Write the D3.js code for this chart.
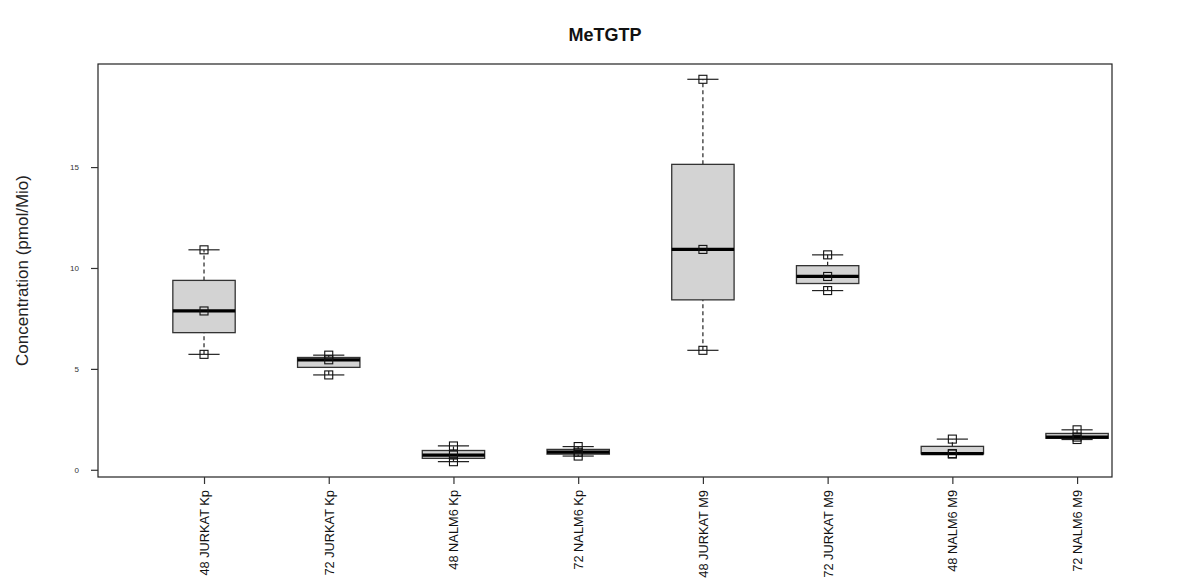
<!DOCTYPE html>
<html>
<head>
<meta charset="utf-8">
<script src="https://cdn.jsdelivr.net/npm/d3@7"></script>
<style>
  body { margin: 0; background: #fff; }
  svg { font-family: "Liberation Sans", Arial, sans-serif; }
</style>
</head>
<body>
<div id="my_dataviz"></div>
<script>
var groups = ["48 JURKAT Kp", "72 JURKAT Kp", "48 NALM6 Kp", "72 NALM6 Kp",
              "48 JURKAT M9", "72 JURKAT M9", "48 NALM6 M9", "72 NALM6 M9"];
var rep1 = [5.72, 4.70, 0.40, 0.68, 5.92, 8.88, 0.78, 1.50];
var rep2 = [7.87, 5.45, 0.73, 0.87, 10.92, 9.58, 0.80, 1.62];
var rep3 = [10.90, 5.68, 1.18, 1.15, 19.35, 10.65, 1.52, 1.98];
var yTicks = [0, 5, 10, 15];

// set the dimensions and margins of the graph
var margin = { top: 64, right: 76, bottom: 111, left: 98 },
    width = 1188 - margin.left - margin.right,
    height = 588 - margin.top - margin.bottom;

var svg = d3.select("#my_dataviz")
    .append("svg")
    .attr("width", 1188)
    .attr("height", 588);

var g = svg.append("g")
    .attr("transform", "translate(" + margin.left + "," + margin.top + ")");

// Tukey five-number summary, like R's boxplot
function fivenum(v) {
    var s = v.slice().sort(d3.ascending), n = s.length;
    var n4 = Math.floor((n + 3) / 2) / 2;
    var d = [1, n4, (n + 1) / 2, n + 1 - n4, n];
    return d.map(function (k) {
        return 0.5 * (s[Math.floor(k) - 1] + s[Math.ceil(k) - 1]);
    });
}

var data = groups.map(function (name, i) {
    var vals = [rep1[i], rep2[i], rep3[i]];
    return { name: name, i: i + 1, vals: vals, f: fivenum(vals) };
});

// scales
var x = d3.scaleLinear().domain([0.15, 8.28]).range([0, width]);
var y = d3.scaleLinear().domain([-0.358, 20.108]).range([height, 0]);
var unit = x(2) - x(1);

// frame
g.append("rect")
    .attr("width", width).attr("height", height)
    .attr("fill", "none").attr("stroke", "#222").attr("stroke-width", 1.2);

// Y axis
var yAxis = g.append("g")
    .call(d3.axisLeft(y).tickValues(yTicks).tickSize(7).tickPadding(12));
yAxis.select(".domain").remove();
yAxis.selectAll("line").attr("stroke", "#333").attr("stroke-width", 1.2);
yAxis.selectAll("text").attr("font-size", 8).attr("fill", "#333")
    .attr("font-family", "Liberation Sans, Arial, sans-serif");

// X axis
var xAxis = g.append("g")
    .attr("transform", "translate(0," + height + ")")
    .call(d3.axisBottom(x).tickValues(data.map(function (d) { return d.i; }))
        .tickFormat(function (v) { return groups[v - 1]; }).tickSize(7));
xAxis.select(".domain").remove();
xAxis.selectAll("line").attr("stroke", "#333").attr("stroke-width", 1.2);
xAxis.selectAll("text")
    .attr("font-size", 12.8).attr("fill", "#111")
    .attr("font-family", "Liberation Sans, Arial, sans-serif")
    .attr("transform", "rotate(-90)")
    .attr("text-anchor", "end")
    .attr("x", -13).attr("y", 0).attr("dy", "0.35em");

// whiskers (dashed)
var box = g.selectAll(".box").data(data).enter().append("g").attr("class", "box");

box.append("line")
    .attr("x1", function (d) { return x(d.i); }).attr("x2", function (d) { return x(d.i); })
    .attr("y1", function (d) { return y(d.f[0]); }).attr("y2", function (d) { return y(d.f[1]); })
    .attr("stroke", "#222").attr("stroke-width", 1.2).attr("stroke-dasharray", "4 3");
box.append("line")
    .attr("x1", function (d) { return x(d.i); }).attr("x2", function (d) { return x(d.i); })
    .attr("y1", function (d) { return y(d.f[3]); }).attr("y2", function (d) { return y(d.f[4]); })
    .attr("stroke", "#222").attr("stroke-width", 1.2).attr("stroke-dasharray", "4 3");

// staples
[0, 4].forEach(function (k) {
    box.append("line")
        .attr("x1", function (d) { return x(d.i) - unit * 0.125; })
        .attr("x2", function (d) { return x(d.i) + unit * 0.125; })
        .attr("y1", function (d) { return y(d.f[k]); })
        .attr("y2", function (d) { return y(d.f[k]); })
        .attr("stroke", "#222").attr("stroke-width", 1.2);
});

// boxes
box.append("rect")
    .attr("x", function (d) { return x(d.i) - unit * 0.25; })
    .attr("width", unit * 0.5)
    .attr("y", function (d) { return y(d.f[3]); })
    .attr("height", function (d) { return y(d.f[1]) - y(d.f[3]); })
    .attr("fill", "#d3d3d3").attr("stroke", "#333").attr("stroke-width", 1.3);

// medians
box.append("line")
    .attr("x1", function (d) { return x(d.i) - unit * 0.25; })
    .attr("x2", function (d) { return x(d.i) + unit * 0.25; })
    .attr("y1", function (d) { return y(d.f[2]); })
    .attr("y2", function (d) { return y(d.f[2]); })
    .attr("stroke", "#000").attr("stroke-width", 3.2);

// raw points as open squares
var pts = [];
data.forEach(function (d) { d.vals.forEach(function (v) { pts.push({ i: d.i, v: v }); }); });
g.selectAll(".pt").data(pts).enter().append("rect")
    .attr("x", function (d) { return x(d.i) - 4; })
    .attr("y", function (d) { return y(d.v) - 4; })
    .attr("width", 8).attr("height", 8)
    .attr("fill", "none").attr("stroke", "#111").attr("stroke-width", 1.1);

// title
svg.append("text")
    .attr("x", margin.left + width / 2).attr("y", 41)
    .attr("text-anchor", "middle")
    .attr("font-size", 18).attr("font-weight", "bold").attr("fill", "#111")
    .text("MeTGTP");

// Y axis label
svg.append("text")
    .attr("transform", "translate(28," + (margin.top + height / 2) + ") rotate(-90)")
    .attr("text-anchor", "middle")
    .attr("font-size", 17).attr("fill", "#222")
    .text("Concentration (pmol/Mio)");
</script>
</body>
</html>
